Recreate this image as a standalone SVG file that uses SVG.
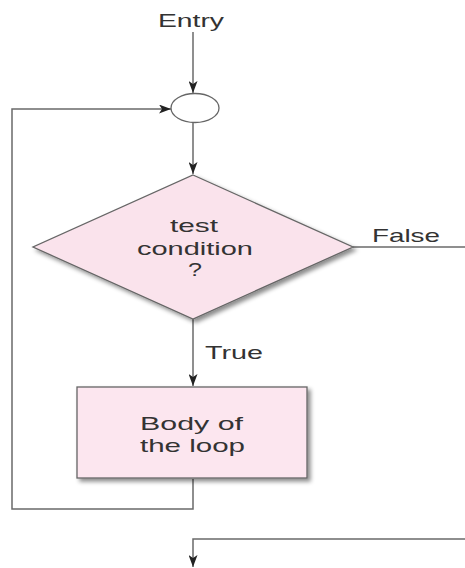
<svg xmlns="http://www.w3.org/2000/svg" width="465" height="568" viewBox="0 0 465 568">
<style>
.t{font-family:"Liberation Sans",Arial,sans-serif;font-size:19px;fill:#333}
.c{fill:none;stroke:#6a6a6a;stroke-width:1.5}
.n{stroke:#666;stroke-width:1.3}
</style>
<defs>
<marker id="ah" markerUnits="userSpaceOnUse" markerWidth="13" markerHeight="9" refX="12" refY="4.5" orient="auto">
<path d="M0,0 L12,4.5 L0,9 L3,4.5 z" fill="#222"/>
</marker>
<filter id="sh" x="-10%" y="-10%" width="130%" height="130%">
<feDropShadow dx="3" dy="3" stdDeviation="2" flood-color="#000" flood-opacity="0.45"/>
</filter>
</defs>
<rect width="465" height="568" fill="#fff"/>
<g id="connectors">
<line class="c" x1="193" y1="32" x2="193" y2="93" marker-end="url(#ah)"/>
<line class="c" x1="193" y1="123" x2="193" y2="174" marker-end="url(#ah)"/>
<line class="c" x1="193" y1="319" x2="193" y2="386" marker-end="url(#ah)"/>
<polyline class="c" points="193,479 193,509 12,509 12,109 171,109" marker-end="url(#ah)"/>
<line class="c" x1="353" y1="247" x2="465" y2="247"/>
<polyline class="c" points="465,539 193,539 193,567" marker-end="url(#ah)"/>
</g>
<g id="entry">
<text class="t" x="158" y="27" textLength="66" lengthAdjust="spacingAndGlyphs">Entry</text>
</g>
<g id="junction">
<ellipse cx="195" cy="108" rx="24" ry="14.5" fill="#fff" class="n"/>
</g>
<g id="condition">
<polygon points="193,175 353,247 193,319 33,247" fill="#fae3ec" class="n" filter="url(#sh)"/>
<text class="t" x="170" y="232" textLength="48" lengthAdjust="spacingAndGlyphs">test</text>
<text class="t" x="137" y="255" textLength="116" lengthAdjust="spacingAndGlyphs">condition</text>
<text class="t" x="188" y="276" textLength="14" lengthAdjust="spacingAndGlyphs">?</text>
</g>
<g id="label-true">
<text class="t" x="205" y="359" textLength="58" lengthAdjust="spacingAndGlyphs">True</text>
</g>
<g id="label-false">
<text class="t" x="372" y="242" textLength="68" lengthAdjust="spacingAndGlyphs">False</text>
</g>
<g id="body">
<rect x="77" y="387" width="230" height="91" fill="#fce6ef" class="n" filter="url(#sh)"/>
<text class="t" x="140" y="430" textLength="103" lengthAdjust="spacingAndGlyphs">Body of</text>
<text class="t" x="140" y="452" textLength="105" lengthAdjust="spacingAndGlyphs">the loop</text>
</g>
</svg>
